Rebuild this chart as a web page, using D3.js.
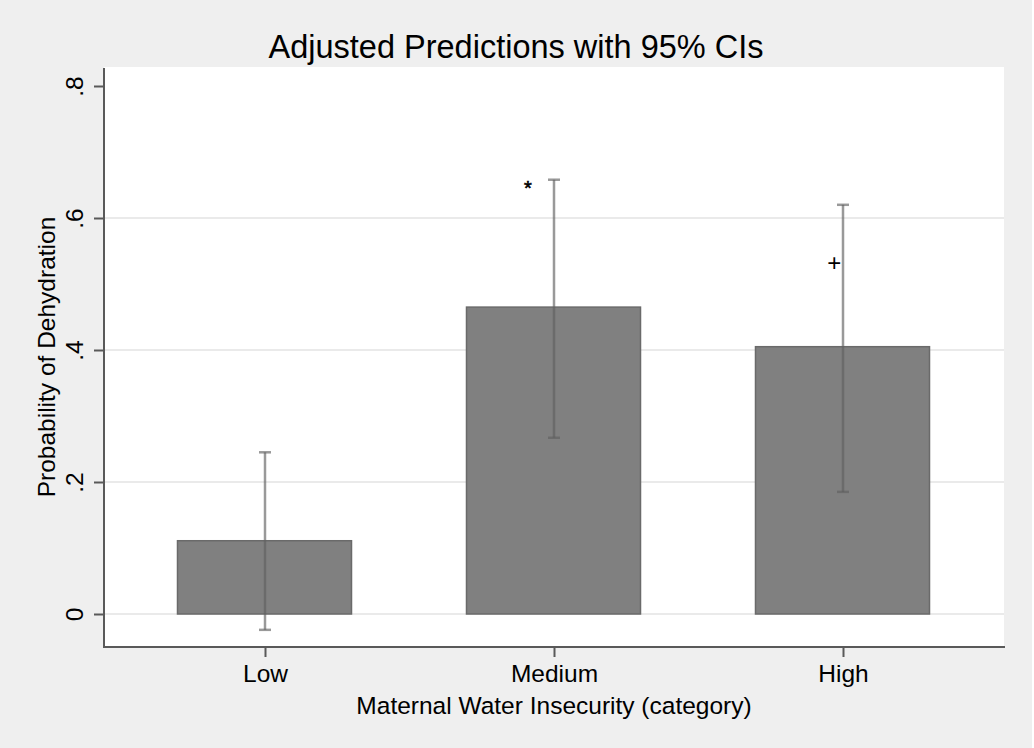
<!DOCTYPE html>
<html>
<head>
<meta charset="utf-8">
<script src="https://cdn.jsdelivr.net/npm/d3@7/dist/d3.min.js"></script>
<style>
  html, body { margin: 0; padding: 0; background: #ffffff; }
  svg { display: block; }
  text { font-family: "Liberation Sans", Arial, Helvetica, sans-serif; fill: #000; }
</style>
</head>
<body>
<svg id="chart" width="1034" height="748"></svg>
<script>
// Categories and estimates
const categories = ["Low", "Medium", "High"];
const predicted = [0.111, 0.465, 0.405];
const ciLower = [-0.024, 0.267, 0.185];
const ciUpper = [0.245, 0.658, 0.620];

// Y axis ticks
const yTickValues = [0, 0.2, 0.4, 0.6, 0.8];
const yTickLabels = ["0", ".2", ".4", ".6", ".8"];
const gridValues = [0, 0.2, 0.4, 0.6];

// Significance marks (x in category position 1..3, y in probability)
const markLabels = ["*", "+"];
const markX = [1.91, 2.97];
const markY = [0.652, 0.532];

const titleText = "Adjusted Predictions with 95% CIs";
const xTitle = "Maternal Water Insecurity (category)";
const yTitle = "Probability of Dehydration";

const W = 1034, H = 748;
const plot = { left: 104, right: 1004, top: 67, bottom: 647 };
const labelSize = 24.5;

const svg = d3.select("#chart");

// Outer graph region
svg.append("rect").attr("x", 0).attr("y", 0).attr("width", W - 2).attr("height", H)
  .attr("fill", "#efefef");

// Scales
const x = d3.scaleLinear().domain([1, 3]).range([265, 843]);
const y = d3.scaleLinear().domain([0, 0.8]).range([614, 86]);
const barWidth = 174;

// Plot region
svg.append("rect")
  .attr("x", plot.left).attr("y", plot.top)
  .attr("width", plot.right - plot.left).attr("height", plot.bottom - plot.top)
  .attr("fill", "#ffffff");

// Gridlines
svg.append("g").selectAll("line").data(gridValues).join("line")
  .attr("x1", plot.left).attr("x2", plot.right)
  .attr("y1", d => y(d)).attr("y2", d => y(d))
  .attr("stroke", "#eaeaea").attr("stroke-width", 2);

// Bars
svg.append("g").selectAll("rect").data(categories).join("rect")
  .attr("x", (d, i) => x(i + 1) - barWidth / 2 - 0.5)
  .attr("width", barWidth)
  .attr("y", (d, i) => y(predicted[i]))
  .attr("height", (d, i) => y(0) - y(predicted[i]))
  .attr("fill", "#808080")
  .attr("stroke", "#6a6a6a")
  .attr("stroke-width", 1.5);

// Confidence intervals
const ci = svg.append("g").attr("stroke", "rgba(95,95,95,0.64)").attr("stroke-width", 2.5);
ci.selectAll("line.stem").data(categories).join("line").attr("class", "stem")
  .attr("x1", (d, i) => x(i + 1)).attr("x2", (d, i) => x(i + 1))
  .attr("y1", (d, i) => y(ciLower[i])).attr("y2", (d, i) => y(ciUpper[i]));
ci.selectAll("line.capHi").data(categories).join("line").attr("class", "capHi")
  .attr("x1", (d, i) => x(i + 1) - 6).attr("x2", (d, i) => x(i + 1) + 6)
  .attr("y1", (d, i) => y(ciUpper[i])).attr("y2", (d, i) => y(ciUpper[i]));
ci.selectAll("line.capLo").data(categories).join("line").attr("class", "capLo")
  .attr("x1", (d, i) => x(i + 1) - 6).attr("x2", (d, i) => x(i + 1) + 6)
  .attr("y1", (d, i) => y(ciLower[i])).attr("y2", (d, i) => y(ciLower[i]));

// Significance marks
svg.append("g").selectAll("text").data(markLabels).join("text")
  .attr("x", (d, i) => x(markX[i]))
  .attr("y", (d, i) => y(markY[i]))
  .attr("text-anchor", "middle")
  .attr("dy", d => d === "*" ? "0.55em" : "0.33em")
  .attr("font-size", d => d === "*" ? 20 : 24)
  .attr("stroke", d => d === "*" ? "#000" : "none")
  .attr("stroke-width", 0.6)
  .text(d => d);

// Y axis
const yAxis = svg.append("g")
  .attr("transform", `translate(${plot.left},0)`)
  .call(d3.axisLeft(y).tickValues(yTickValues)
    .tickFormat((d, i) => yTickLabels[i]).tickSize(10).tickPadding(0));
yAxis.select(".domain").remove();
yAxis.selectAll(".tick line").attr("stroke", "#595959").attr("stroke-width", 2);
yAxis.selectAll(".tick text")
  .attr("x", null).attr("dy", null)
  .attr("transform", "translate(-21,0) rotate(-90)")
  .attr("text-anchor", "middle")
  .attr("font-size", labelSize)
  .attr("fill", "#000");
svg.append("line")
  .attr("x1", plot.left).attr("x2", plot.left)
  .attr("y1", plot.top + 1).attr("y2", plot.bottom + 1)
  .attr("stroke", "#595959").attr("stroke-width", 2);

// X axis
const xAxis = svg.append("g")
  .attr("transform", `translate(0,${plot.bottom})`)
  .call(d3.axisBottom(x).tickValues([1, 2, 3])
    .tickFormat((d, i) => categories[i]).tickSize(10).tickPadding(0));
xAxis.select(".domain").remove();
xAxis.selectAll(".tick line").attr("stroke", "#595959").attr("stroke-width", 2);
xAxis.selectAll(".tick text")
  .attr("y", 35).attr("dy", null)
  .attr("font-size", labelSize).attr("fill", "#000");
svg.append("line")
  .attr("x1", plot.left - 1).attr("x2", plot.right + 1)
  .attr("y1", plot.bottom).attr("y2", plot.bottom)
  .attr("stroke", "#595959").attr("stroke-width", 2);

// Titles
svg.append("text")
  .attr("x", 516).attr("y", 58)
  .attr("text-anchor", "middle")
  .attr("font-size", 32.5)
  .text(titleText);

svg.append("text")
  .attr("x", (plot.left + plot.right) / 2).attr("y", 714)
  .attr("text-anchor", "middle")
  .attr("font-size", labelSize)
  .text(xTitle);

svg.append("text")
  .attr("transform", `translate(55,${(plot.top + plot.bottom) / 2}) rotate(-90)`)
  .attr("text-anchor", "middle")
  .attr("font-size", labelSize)
  .text(yTitle);
</script>
</body>
</html>
